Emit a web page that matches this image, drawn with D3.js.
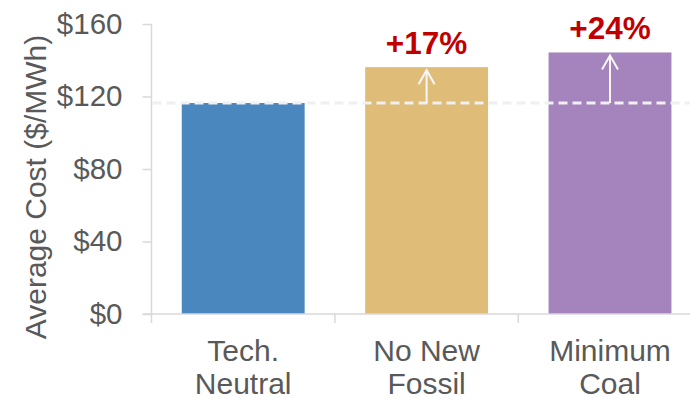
<!DOCTYPE html>
<html><head><meta charset="utf-8">
<script src="https://cdn.jsdelivr.net/npm/d3@7"></script>
<style>html,body{margin:0;padding:0;background:#fff;}svg{display:block;}</style>
</head><body>
<svg id="chart" width="690" height="399"></svg>
<script>
const categories = [["Tech.", "Neutral"], ["No New", "Fossil"], ["Minimum", "Coal"]];
const values = [116.4, 136.2, 144.3];
const changeLabels = [null, "+17%", "+24%"];
const barColors = ["#4a87be", "#dfbd78", "#a584be"];
const yTicks = [0, 40, 80, 120, 160];
const yTitle = "Average Cost ($/MWh)";
const baseline = values[0];

const svg = d3.select("#chart");
const font = "Arial, 'Liberation Sans', sans-serif";
const textColor = "#595959";
const axisColor = "#d9d9d9";

const y = d3.scaleLinear().domain([0, 160]).range([314, 24]);
const x = d3.scaleBand().domain(d3.range(categories.length))
  .range([151.5, 701.7]).paddingInner(0.33).paddingOuter(0.165);
const step = x.step();
const x0 = 151.5;

// bars
svg.selectAll("rect.bar").data(values).join("rect")
  .attr("class", "bar")
  .attr("x", (d, i) => x(i)).attr("width", x.bandwidth())
  .attr("y", d => y(d)).attr("height", d => y(0) - y(d))
  .attr("fill", (d, i) => barColors[i]);

// y axis
const yAxis = svg.append("g").attr("transform", `translate(${x0},0)`)
  .call(d3.axisLeft(y).tickValues(yTicks).tickSize(9).tickPadding(20).tickFormat(d => "$" + d));
yAxis.select(".domain").remove();
yAxis.selectAll(".tick line").attr("stroke", axisColor).attr("stroke-width", 1.5);
yAxis.selectAll(".tick text").attr("fill", textColor).attr("font-family", font).attr("font-size", 29.5);
svg.append("line").attr("x1", x0).attr("x2", x0).attr("y1", y(160)).attr("y2", y(0) + 9)
  .attr("stroke", axisColor).attr("stroke-width", 1.5);

// x axis baseline
svg.append("line").attr("x1", x0 - 9).attr("x2", 690).attr("y1", y(0)).attr("y2", y(0))
  .attr("stroke", axisColor).attr("stroke-width", 1.5);
svg.selectAll("line.xt").data(d3.range(1, categories.length + 1)).join("line")
  .attr("class", "xt")
  .attr("x1", i => x0 + i * step).attr("x2", i => x0 + i * step)
  .attr("y1", y(0)).attr("y2", y(0) + 9)
  .attr("stroke", axisColor).attr("stroke-width", 1.5);

// category labels
const lab = svg.selectAll("text.cat").data(categories).join("text")
  .attr("class", "cat")
  .attr("text-anchor", "middle").attr("fill", textColor)
  .attr("font-family", font).attr("font-size", 30);
lab.selectAll("tspan").data((d, i) => d.map(t => ({t, i}))).join("tspan")
  .attr("x", d => x(d.i) + x.bandwidth() / 2)
  .attr("y", (d, j) => 361 + j * 33)
  .text(d => d.t);

// y title
svg.append("text")
  .attr("transform", `translate(46,187) rotate(-90)`)
  .attr("text-anchor", "middle").attr("fill", textColor)
  .attr("font-family", font).attr("font-size", 30)
  .text(yTitle);

// dashed reference line
svg.append("line").attr("x1", x0 + 1).attr("x2", 690)
  .attr("y1", y(baseline)).attr("y2", y(baseline))
  .attr("stroke", "#f0f0f0").attr("stroke-width", 3).attr("stroke-dasharray", "9,5");

// arrows and labels
values.forEach((v, i) => {
  if (!changeLabels[i]) return;
  const cx = x(i) + x.bandwidth() / 2;
  const top = y(v) + 3;
  svg.append("line").attr("x1", cx).attr("x2", cx).attr("y1", y(baseline)).attr("y2", top)
    .attr("stroke", "#f7f7f7").attr("stroke-width", 2);
  svg.append("polyline")
    .attr("points", `${cx - 8},${top + 14} ${cx},${top} ${cx + 8},${top + 14}`)
    .attr("fill", "none").attr("stroke", "#f7f7f7").attr("stroke-width", 2);
  svg.append("text").attr("x", cx).attr("y", y(v) - 13)
    .attr("text-anchor", "middle").attr("fill", "#c00000")
    .attr("font-family", font).attr("font-weight", "bold").attr("font-size", 31.5)
    .text(changeLabels[i]);
});
</script>
</body></html>
